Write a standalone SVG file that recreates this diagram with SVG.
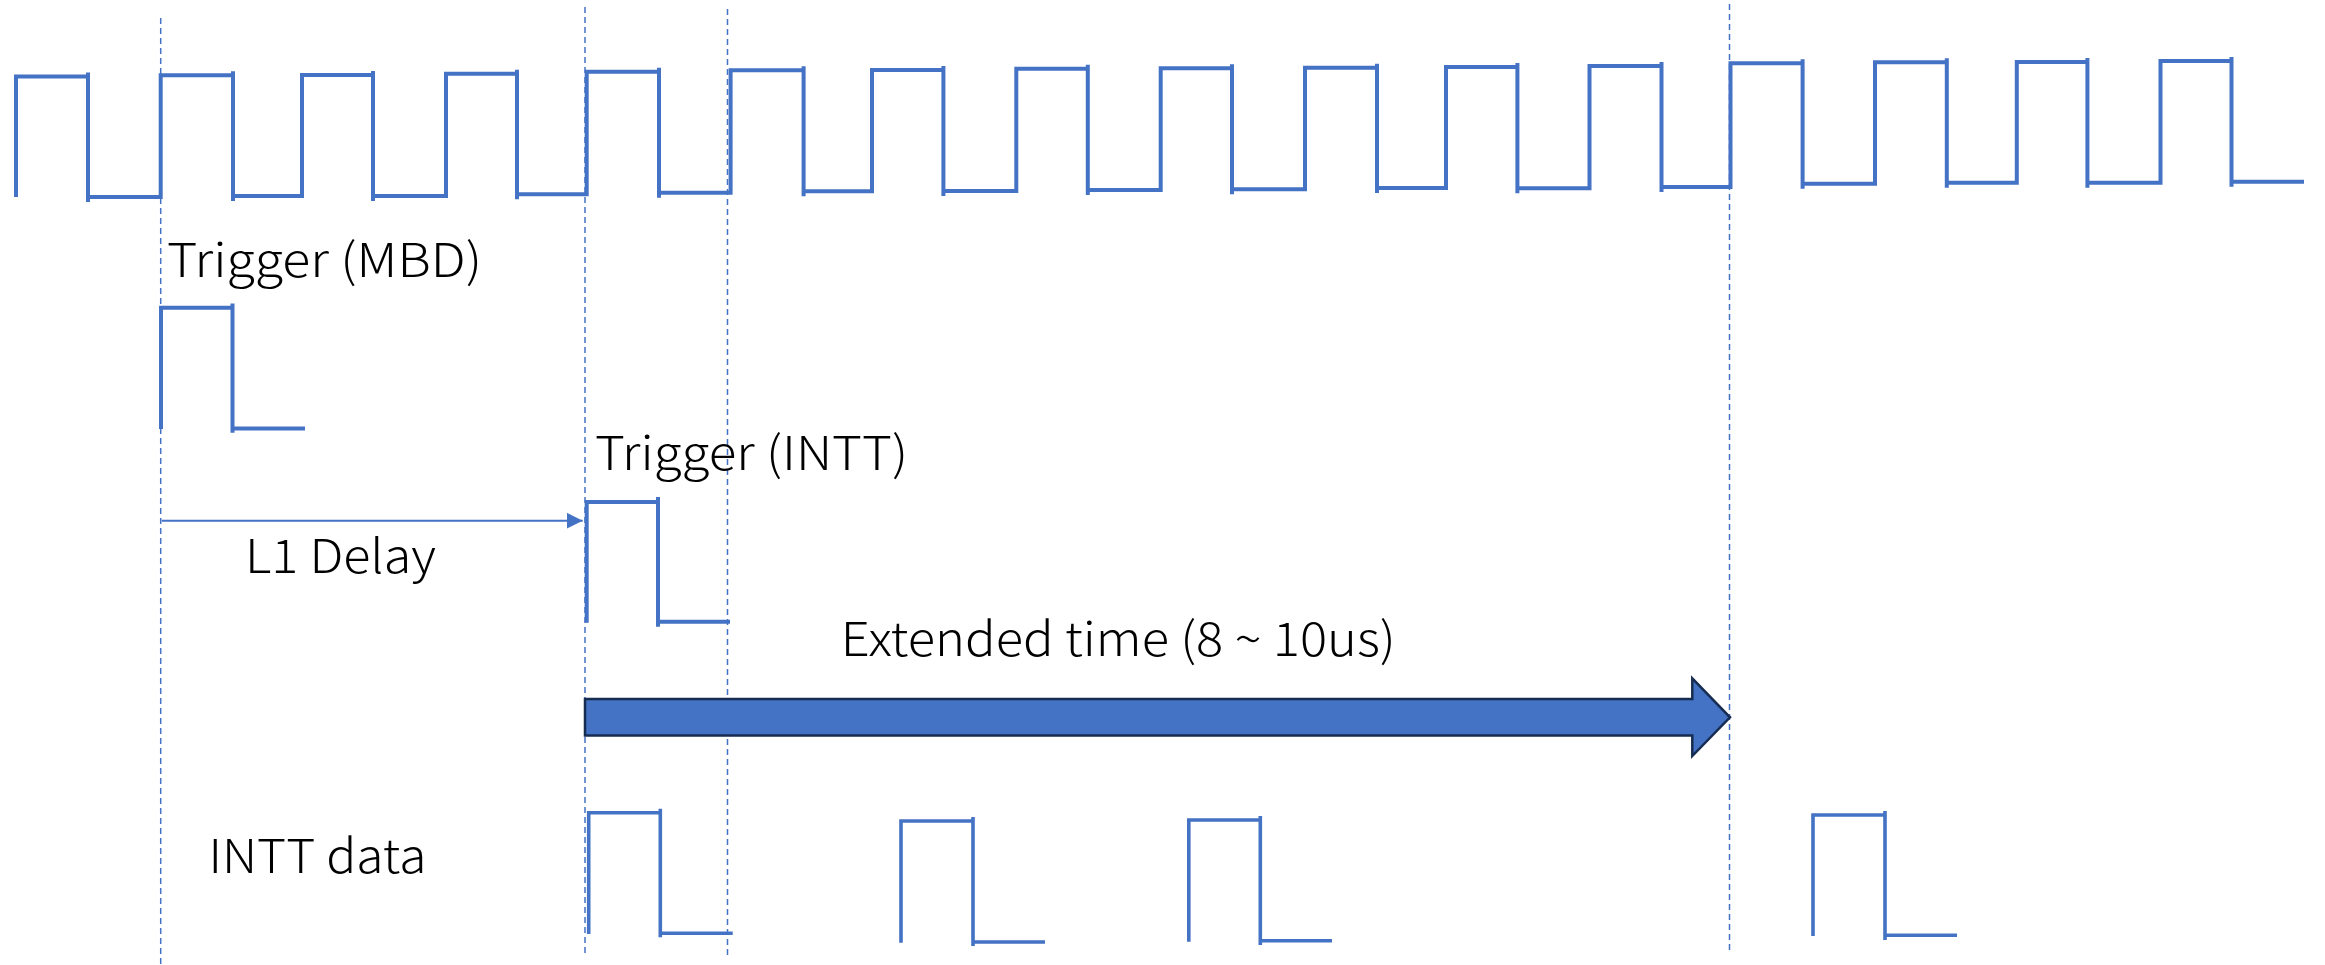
<svg xmlns="http://www.w3.org/2000/svg" width="2325" height="965" viewBox="0 0 2325 965">
  <style>
    .wave { fill: none; stroke: #4472C4; stroke-width: 4; stroke-linecap: butt; stroke-linejoin: miter; }
    .pulse { fill: none; stroke: #4472C4; stroke-width: 3.6; stroke-linecap: butt; }
    .guide { fill: none; stroke: #4472C4; stroke-width: 1.5; stroke-dasharray: 6 4; }
    .label { font-family: "Noto Sans CJK JP", "Noto Sans", "Liberation Sans", sans-serif; font-size: 47px; font-weight: 300; fill: #000000; }
  </style>
  <defs>
    <marker id="delayHead" viewBox="0 0 16 16" refX="16" refY="8" markerWidth="16" markerHeight="16" markerUnits="userSpaceOnUse" orient="auto">
      <path d="M0,0 L16,8 L0,16 Z" fill="#4472C4"/>
    </marker>
  </defs>
  <rect width="2325" height="965" fill="#ffffff"/>

  <!-- vertical dashed time references -->
  <g id="guides">
    <line class="guide" x1="160.7" y1="18" x2="160.7" y2="965"/>
    <line class="guide" x1="585" y1="7" x2="585" y2="953"/>
    <line class="guide" x1="727.5" y1="9" x2="727.5" y2="955"/>
    <line class="guide" x1="1729.5" y1="4" x2="1729.5" y2="950"/>
  </g>

  <!-- system clock -->
  <g id="clock">
    <path class="wave" d="M16,197 V76.5 H88 M88,72.5 V202
      M88,197 H160.7 V75.3 H233 M233,71.3 V201
      M233,196 H302 V75 H373 M373,71 V201
      M373,196 H446 V73.7 H517 M517,69.7 V199.3
      M517,194.3 H586.7 V71.7 H659 M659,67.7 V197.7
      M659,192.7 H730.6 V70.3 H803.6 M803.6,66.3 V196.3
      M803.6,191.3 H872 V70 H943.4 M943.4,66 V196
      M943.4,191 H1016.3 V68.7 H1087.8 M1087.8,64.7 V195
      M1087.8,190 H1160.7 V68.3 H1232 M1232,64.3 V194.3
      M1232,189.3 H1305 V67.7 H1377 M1377,63.7 V193
      M1377,188 H1446 V67 H1517.4 M1517.4,63 V193.3
      M1517.4,188.3 H1589.5 V66 H1661.5 M1661.5,62 V192
      M1661.5,187 H1730.5 V63.3 H1802.6 M1802.6,59.3 V188.7
      M1802.6,183.7 H1875 V62.3 H1946.8 M1946.8,58.3 V187.7
      M1946.8,182.7 H2016.8 V62 H2087.4 M2087.4,58 V187.7
      M2087.4,182.7 H2160.5 V61 H2231.5 M2231.5,57 V186.7
      M2231.5,181.7 H2304"/>
  </g>

  <!-- MBD trigger -->
  <g id="trigger-mbd">
    <text class="label" x="167" y="276.7" textLength="315" lengthAdjust="spacingAndGlyphs">Trigger (MBD)</text>
    <path class="wave" d="M161,429 V307.7 H232.5 M232.5,303.5 V432.7 M232.5,428.5 H305"/>
  </g>

  <!-- INTT trigger -->
  <g id="trigger-intt">
    <text class="label" x="595" y="470" textLength="313" lengthAdjust="spacingAndGlyphs">Trigger (INTT)</text>
    <path class="wave" d="M586.7,622.7 V502 H658 M658,497 V626.7 M658,621.7 H730"/>
  </g>

  <!-- L1 delay label -->
  <g id="l1-delay">
    <text class="label" x="245" y="572.7" textLength="191" lengthAdjust="spacingAndGlyphs">L1 Delay</text>
  </g>

  <!-- extended time label -->
  <g id="extended-time">
    <text class="label" x="840.8" y="656" textLength="555" lengthAdjust="spacingAndGlyphs">Extended time (8 ~ 10us)</text>
  </g>

  <!-- INTT data pulses -->
  <g id="intt-data">
    <text class="label" x="208.4" y="873.3" textLength="218" lengthAdjust="spacingAndGlyphs">INTT data</text>
    <path class="pulse" d="M588.7,934 V812.7 H660.3 M660.3,808.7 V937.3 M660.3,933.3 H732.7"/>
    <path class="pulse" d="M901,942.7 V821 H973 M973,817 V946 M973,942 H1045"/>
    <path class="pulse" d="M1188.8,941.7 V820 H1260.3 M1260.3,816 V945 M1260.3,940.7 H1332"/>
    <path class="pulse" d="M1813,936 V815 H1885 M1885,811 V940 M1885,935.3 H1957"/>
  </g>

  <!-- connectors -->
  <g id="connectors">
    <line x1="161.7" y1="520.7" x2="582.7" y2="520.7" stroke="#4472C4" stroke-width="2" marker-end="url(#delayHead)"/>
    <polygon points="585,699 1692.3,699 1692.3,678.3 1730,717.3 1692.3,756 1692.3,735.5 585,735.5" fill="#4472C4" stroke="#172C51" stroke-width="2.5" stroke-linejoin="miter"/>
  </g>
</svg>
